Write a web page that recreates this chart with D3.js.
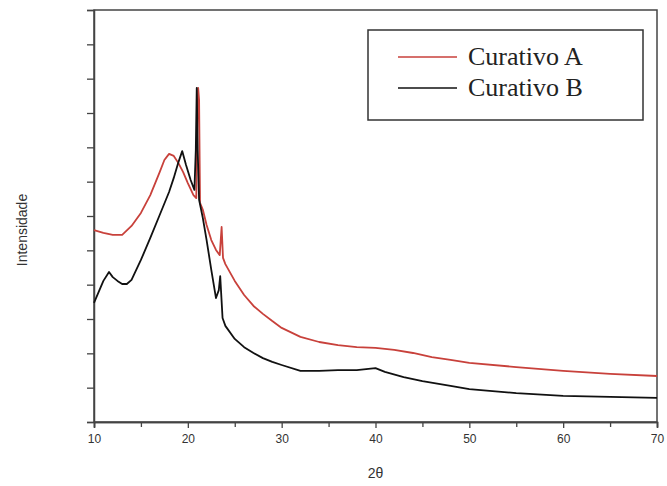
<!DOCTYPE html>
<html><head><meta charset="utf-8">
<script src="https://cdn.jsdelivr.net/npm/d3@7"></script>
<style>body{margin:0;background:#fff}</style>
</head><body>
<svg id="c" width="667" height="486"></svg>
<script>
const seriesNames = ["Curativo A", "Curativo B"];
const seriesColors = ["#c8413b", "#111111"];
const xTicks = [10, 20, 30, 40, 50, 60, 70];
const xMinorTicks = [15, 25, 35, 45, 55, 65];
const yTicks = [0,1,2,3,4,5,6,7,8,9,10,11,12];

const curativoA_x = [10,11,12,13,14,15,16,17,17.5,18,18.5,19,19.5,20,20.6,20.9,21.0,21.1,21.2,21.3,21.6,22,22.5,23,23.4,23.6,23.75,24,25,26,27,28,29,30,32,34,36,38,40,42,44,46,48,50,55,60,65,70];
const curativoA_y = [5.59,5.51,5.45,5.45,5.71,6.09,6.61,7.28,7.63,7.81,7.75,7.54,7.28,6.96,6.61,6.52,8.51,9.73,9.38,6.38,6.18,5.74,5.30,5.01,4.86,5.68,4.78,4.60,4.11,3.70,3.38,3.15,2.94,2.74,2.48,2.33,2.24,2.18,2.16,2.10,2.01,1.89,1.81,1.72,1.60,1.49,1.40,1.34];

const curativoB_x = [10,10.5,11,11.6,12,12.5,13,13.5,14,15,16,17,18,18.5,19,19.4,19.8,20.3,20.7,20.85,20.95,21.05,21.2,21.6,22,22.5,23,23.3,23.45,23.7,24,25,26,27,28,29,30,32,34,36,38,40,41,43,45,48,50,55,60,65,70];
const curativoB_y = [3.47,3.79,4.11,4.37,4.22,4.11,4.02,4.02,4.14,4.72,5.36,6.03,6.70,7.11,7.57,7.89,7.49,7.05,6.76,7.92,9.73,7.92,6.47,5.94,5.30,4.43,3.61,3.84,4.25,3.03,2.80,2.42,2.18,2.01,1.86,1.75,1.66,1.49,1.49,1.51,1.51,1.57,1.46,1.31,1.19,1.05,0.96,0.84,0.76,0.73,0.70];

const svg = d3.select("#c");
const L = 94, R = 657, T = 10, B = 422;
const x = d3.scaleLinear().domain([10, 70]).range([L, R]);
const y = d3.scaleLinear().domain([0, 12]).range([B, T]);
const axisColor = "#444";

// frame
svg.append("rect").attr("x", L).attr("y", T).attr("width", R - L).attr("height", B - T)
  .attr("fill", "none").attr("stroke", axisColor).attr("stroke-width", 1.5);

// x axis
const gx = svg.append("g").attr("transform", `translate(0,${B})`)
  .call(d3.axisBottom(x).tickValues(xTicks).tickSize(6).tickPadding(6).tickFormat(d3.format("d")));
svg.append("g").attr("transform", `translate(0,${B})`)
  .call(d3.axisBottom(x).tickValues(xMinorTicks).tickSize(5).tickFormat(""));
// y axis
svg.append("g").attr("transform", `translate(${L},0)`)
  .call(d3.axisLeft(y).tickValues(yTicks).tickSize(7).tickFormat(""));

svg.selectAll(".domain").attr("stroke", axisColor).attr("stroke-width", 1.5);
svg.selectAll(".tick line").attr("stroke", axisColor).attr("stroke-width", 1.3);
gx.selectAll("text").attr("font-family", "Liberation Sans, Arial, sans-serif")
  .attr("font-size", 12).attr("fill", "#333");

// lines
const line = d3.line().x(d => x(d[0])).y(d => y(d[1]));
const dataA = curativoA_x.map((v, i) => [v, curativoA_y[i]]);
const dataB = curativoB_x.map((v, i) => [v, curativoB_y[i]]);
svg.append("path").datum(dataA).attr("d", line).attr("fill", "none")
  .attr("stroke", seriesColors[0]).attr("stroke-width", 1.8).attr("stroke-linejoin", "round");
svg.append("path").datum(dataB).attr("d", line).attr("fill", "none")
  .attr("stroke", seriesColors[1]).attr("stroke-width", 1.8).attr("stroke-linejoin", "round");

// axis titles
svg.append("text").attr("x", (L + R) / 2).attr("y", 478).attr("text-anchor", "middle")
  .attr("font-family", "Liberation Sans, Arial, sans-serif").attr("font-size", 14).attr("fill", "#333")
  .text("2θ");
svg.append("text").attr("transform", "translate(27,230) rotate(-90)").attr("text-anchor", "middle")
  .attr("font-family", "Liberation Sans, Arial, sans-serif").attr("font-size", 14).attr("fill", "#333")
  .text("Intensidade");

// legend
const lg = svg.append("g");
lg.append("rect").attr("x", 368).attr("y", 30).attr("width", 275).attr("height", 90)
  .attr("fill", "#fff").attr("stroke", "#333").attr("stroke-width", 1.5);
seriesNames.forEach((n, i) => {
  const yy = 57 + i * 31;
  lg.append("line").attr("x1", 398).attr("x2", 457).attr("y1", yy).attr("y2", yy)
    .attr("stroke", seriesColors[i]).attr("stroke-width", 1.6);
  lg.append("text").attr("x", 468).attr("y", yy + 8)
    .attr("font-family", "Liberation Serif, Times New Roman, serif").attr("font-size", 26).attr("fill", "#222")
    .text(n);
});
</script>
</body></html>
